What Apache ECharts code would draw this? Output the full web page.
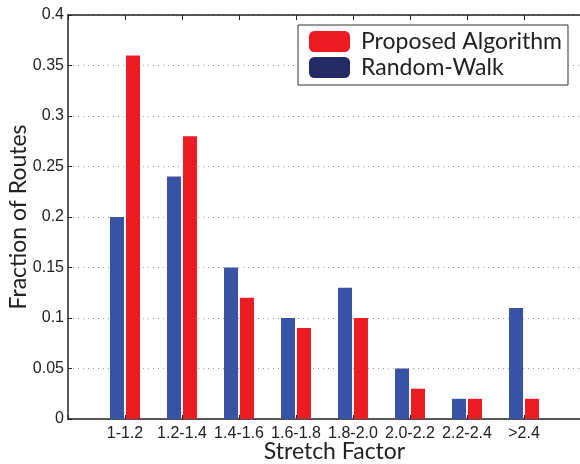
<!DOCTYPE html>
<html>
<head>
<meta charset="utf-8">
<script src="https://cdn.jsdelivr.net/npm/echarts@6/dist/echarts.min.js"></script>
<style>html,body{margin:0;padding:0;background:#fff}#c{width:580px;height:464px}</style>
</head>
<body>
<div id="c"></div>
<script>
var categories = ['1-1.2','1.2-1.4','1.4-1.6','1.6-1.8','1.8-2.0','2.0-2.2','2.2-2.4','>2.4'];
var randomWalk = [0.20, 0.24, 0.15, 0.10, 0.13, 0.05, 0.02, 0.11];
var proposed   = [0.36, 0.28, 0.12, 0.09, 0.10, 0.03, 0.02, 0.02];
var yTicks = [0, 0.05, 0.1, 0.15, 0.2, 0.25, 0.3, 0.35, 0.4];

function pairs(arr){ return arr.map(function(v,i){ return [i+1, v]; }); }

var chart = echarts.init(document.getElementById('c'));
var axisColor = '#222';
var nameFont = 'Lato';
chart.setOption({
  animation: false,
  backgroundColor: '#fff',
  grid: {left: 68, top: 15, right: -1, bottom: 45, containLabel: false, outerBoundsMode: 'none'},
  legend: {
    orient: 'vertical', left: 298, top: 25,
    padding: [5, 6, 6, 11],
    borderColor: '#333', borderWidth: 1, backgroundColor: '#fff',
    itemWidth: 41, itemHeight: 21, itemGap: 3,
    textStyle: {fontFamily: nameFont, fontSize: 23, color: '#222', padding: [0,0,0,6]},
    data: [
      {name: 'Proposed Algorithm', itemStyle: {color: '#ed1c24'}},
      {name: 'Random-Walk', itemStyle: {color: '#232b65'}}
    ]
  },
  xAxis: [{
    type: 'value', min: 0, max: 9, interval: 1,
    name: 'Stretch Factor', nameLocation: 'middle', nameGap: 21, nameMoveOverlap: false,
    nameTextStyle: {fontFamily: nameFont, fontSize: 23, color: '#222', padding: [0,0,0,20]},
    axisLine: {lineStyle: {color: axisColor, width: 1.5}},
    axisTick: {inside: true, length: 4, lineStyle: {color: axisColor}},
    axisLabel: {
      margin: 7, fontFamily: 'Liberation Sans', fontSize: 16, color: '#222',
      formatter: function(v){ return (v >= 1 && v <= categories.length) ? categories[v-1] : ''; }
    },
    splitLine: {show: false}
  }, {
    type: 'value', min: 0, max: 9, interval: 1, position: 'top',
    axisLine: {show: true, lineStyle: {color: axisColor, width: 1.5}},
    axisTick: {show: true, inside: true, length: 5, lineStyle: {color: axisColor}},
    axisLabel: {show: false}, splitLine: {show: false}
  }],
  yAxis: {
    type: 'value', min: 0, max: 0.4, interval: 0.05,
    name: 'Fraction of Routes', nameLocation: 'middle', nameGap: 38, nameMoveOverlap: false,
    nameTextStyle: {fontFamily: nameFont, fontSize: 23, color: '#222'},
    axisLine: {show: true, lineStyle: {color: axisColor, width: 1.5}},
    axisTick: {show: true, inside: true, length: 4, lineStyle: {color: axisColor}},
    axisLabel: {
      margin: 4, fontFamily: 'Liberation Sans', fontSize: 16, color: '#222',
      formatter: function(v){ var r = Math.round(v*100)/100; return yTicks.indexOf(r) >= 0 ? String(r) : ''; }
    },
    splitLine: {show: true, lineStyle: {type: [1, 4], color: '#999', width: 1}}
  },
  series: [{
    name: 'Random-Walk', type: 'bar', data: pairs(randomWalk),
    barWidth: 14, barGap: '14%', itemStyle: {color: '#3853a4'}
  }, {
    name: 'Proposed Algorithm', type: 'bar', data: pairs(proposed),
    barWidth: 14, barGap: '14%', itemStyle: {color: '#ed1c24'}
  }]
});
</script>
</body>
</html>
